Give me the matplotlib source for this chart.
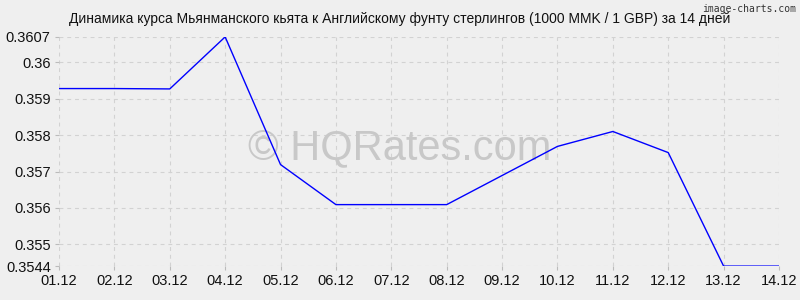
import matplotlib
matplotlib.use("Agg")
import matplotlib.pyplot as plt

dates = ["01.12", "02.12", "03.12", "04.12", "05.12", "06.12", "07.12",
         "08.12", "09.12", "10.12", "11.12", "12.12", "13.12", "14.12"]
rates = [0.35928, 0.35928, 0.35927, 0.3607, 0.35719, 0.35609, 0.35609,
         0.35609, 0.35689, 0.35769, 0.3581, 0.35752, 0.3544, 0.3544]
yticks = [0.3544, 0.355, 0.356, 0.357, 0.358, 0.359, 0.36, 0.3607]
ytick_labels = ["0.3544", "0.355", "0.356", "0.357", "0.358", "0.359", "0.36", "0.3607"]
title = "Динамика курса Мьянманского кьята к Английскому фунту стерлингов (1000 MMK / 1 GBP) за 14 дней"

plt.rcParams['font.family'] = ['Liberation Sans', 'DejaVu Sans']
bg = "#efefef"
fig = plt.figure(figsize=(8, 3), dpi=100, facecolor=bg)
ax = fig.add_axes([0.07375, 0.113, 0.9, 0.764], facecolor=bg)

x = list(range(len(dates)))
ax.plot(x, rates, color="#0000ff", linewidth=1.0, zorder=3)

ax.set_xlim(0, len(dates) - 1)
ax.set_ylim(0.3544, 0.3607)
ax.set_xticks(x)
ax.set_xticklabels(dates, fontsize=10.5)
ax.set_yticks(yticks)
ax.set_yticklabels(ytick_labels, fontsize=10.5)
ax.grid(True, color="#d2d2d2", linestyle=(0, (3.5, 3.5)), linewidth=0.8)
ax.set_axisbelow(True)
for s in ax.spines.values():
    s.set_visible(False)
ax.tick_params(axis="both", length=3, color="#bbbbbb", pad=3, labelcolor="#111111")

ax.text(0.5, 0.507, "© HQRates.com", ha="center", va="center", fontsize=30,
        color="#c8c8c8", transform=fig.transFigure, zorder=2)

fig.text(0.5, 0.935, title, ha="center", va="center", fontsize=10, color="#111111")
fig.text(0.995, 0.985, "image-charts.com", ha="right", va="top", fontsize=7,
         family="DejaVu Sans Mono", color="#333333")

fig.savefig("out.png", dpi=100, facecolor=bg)
